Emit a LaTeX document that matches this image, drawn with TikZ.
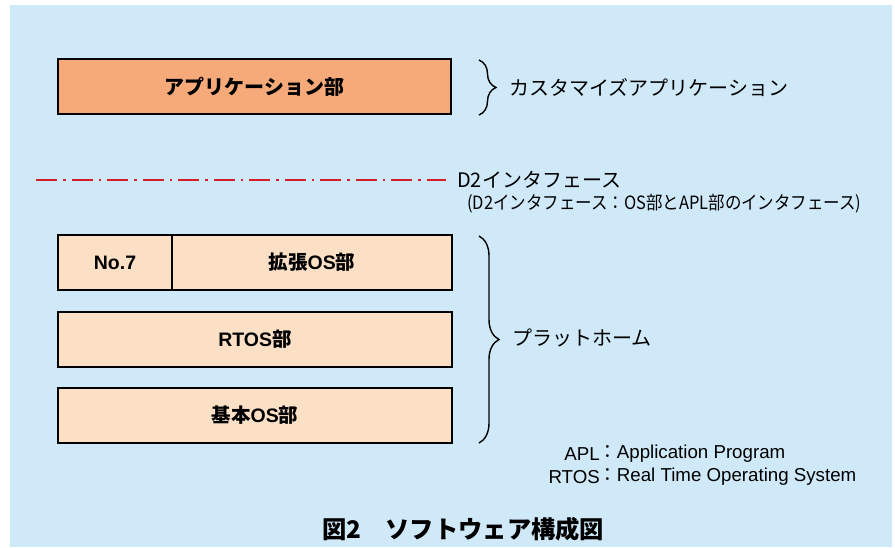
\documentclass[tikz,border=0pt]{standalone}
\usepackage{fontspec}
\usepackage{graphicx}
\setmainfont{Liberation Sans}
\newfontfamily\jp{Noto Sans CJK JP}
\usetikzlibrary{decorations.pathreplacing}
\definecolor{bgblue}{RGB}{208,233,248}
\definecolor{apporange}{RGB}{246,170,122}
\definecolor{ospeach}{RGB}{252,224,198}
\definecolor{ifred}{RGB}{214,30,40}
\tikzset{
  layerbox/.style={draw=black, line width=1.3pt, inner sep=0pt, minimum height=55pt, font=\bfseries\fontsize{19.5}{22}\selectfont},
  curly/.style={decorate, decoration={brace, amplitude=#1}, line width=1.4pt},
  sidetext/.style={anchor=west, inner sep=0pt, font=\jp\fontsize{20}{22}\selectfont},
  ifline/.style={draw=ifred, line width=2.6pt, dash pattern=on 21pt off 6pt on 2.5pt off 6pt},
  legend/.style={inner sep=0pt, font=\fontsize{18.7}{21}\selectfont}
}
\begin{document}
\begin{tikzpicture}[x=1pt, y=-1pt]
\useasboundingbox (0,0) rectangle (895,547);
\fill[white] (0,0) rectangle (895,547);
\fill[bgblue] (10,5) rectangle (892,547);

% application layer
\node[layerbox, fill=apporange, minimum width=393pt, font=\jp\bfseries\fontsize{20}{22}\selectfont] (app) at (254.5,86.5) {アプリケーション部};

% brace for application
\coordinate (b1t) at (479,60);
\coordinate (b1b) at (479,115);
\draw[curly=17pt] (b1t) -- (b1b);
\node[sidetext] (custom) at (509,88) {カスタマイズアプリケーション};

% D2 interface line
\coordinate (ifl) at (36,180);
\coordinate (ifr) at (446,180);
\draw[ifline] (ifl) -- (ifr);
\node[anchor=west, inner sep=0pt, font=\jp\fontsize{20}{22}\selectfont] (d2) at (457,180) {D2インタフェース};
\node[anchor=west, inner sep=0pt, font=\jp\fontsize{18.3}{22}\selectfont] (d2note) at (467,204) {\scalebox{0.9}[1]{(D2インタフェース：OS部とAPL部のインタフェース)}};

% platform layers
\node[layerbox, fill=ospeach, minimum width=114pt] (no7) at (115,262.5) {No.7};
\node[layerbox, fill=ospeach, minimum width=280pt] (ext) at (312,262.5) {{\jp 拡張}OS{\jp 部}};
\node[layerbox, fill=ospeach, minimum width=394pt] (rtos) at (255,339.5) {RTOS{\jp 部}};
\node[layerbox, fill=ospeach, minimum width=394pt] (base) at (255,415.5) {{\jp 基本}OS{\jp 部}};

% brace for platform
\coordinate (b2t) at (479,236);
\coordinate (b2b) at (479,443);
\draw[curly=20pt] (b2t) -- (b2b);
\node[sidetext] (plat) at (512,338) {プラットホーム};

% legend
\node[legend, anchor=east] (aplk) at (600,454) {APL};
\node[legend, anchor=west] (aplv) at (598,454) {{\jp ：}Application Program};
\node[legend, anchor=east] (rtosk) at (600,477) {RTOS};
\node[legend, anchor=west] (rtosv) at (598,477) {{\jp ：}Real Time Operating System};

% caption
\node[anchor=west, inner sep=0pt, font=\jp\bfseries\fontsize{24.3}{27}\selectfont] (cap) at (322,529) {図2　ソフトウェア構成図};
\end{tikzpicture}
\end{document}
